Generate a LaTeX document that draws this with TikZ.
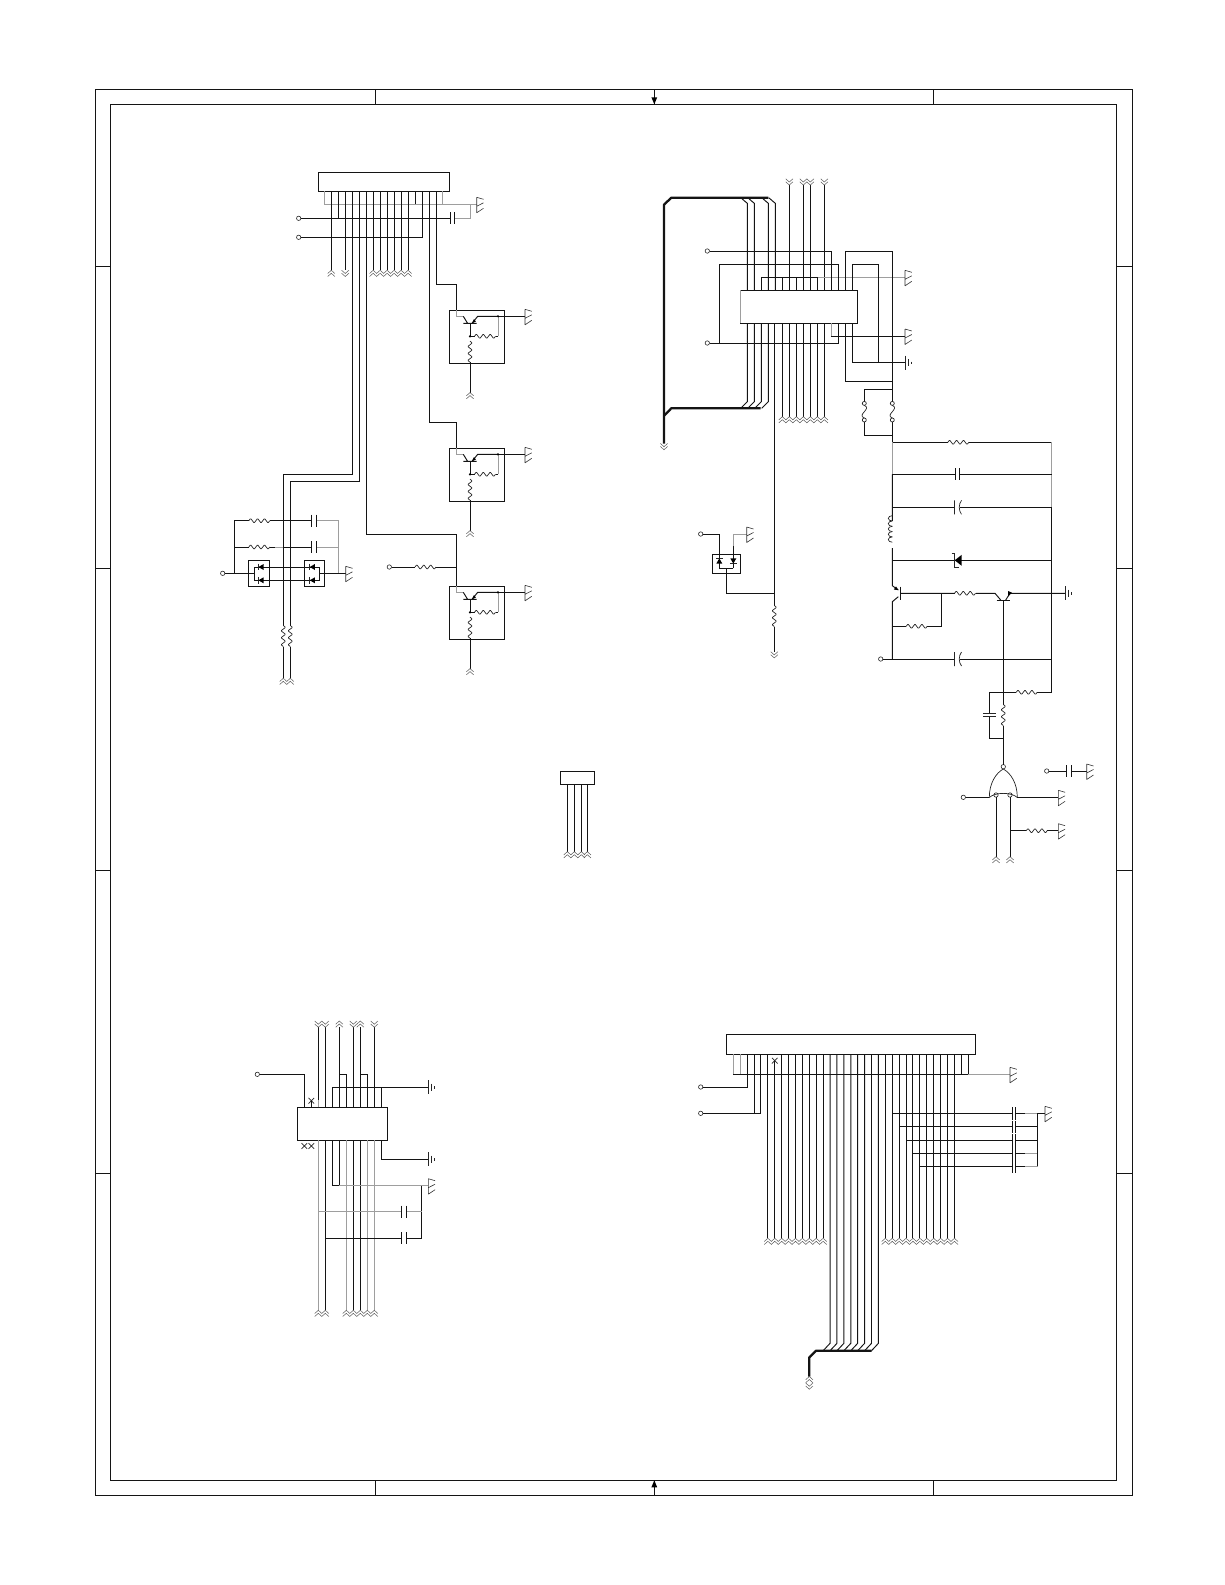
\documentclass[tikz,border=0pt]{standalone}

\tikzset{
	wire/.style={line width=0.95pt, draw=black!92},
	gwire/.style={line width=0.95pt, draw=black!38},
	bus/.style={line width=2.3pt, draw=black!92, line join=bevel},
	part/.style={line width=0.7pt, draw=black!85},
	chev/.style={line width=0.5pt, draw=black!65},
	ibox/.style={rectangle, draw=black!92, line width=0.95pt, fill=white, inner sep=0pt, outer sep=0pt, anchor=north west},
	term/.style={circle, draw=black!85, line width=0.6pt, fill=white, inner sep=0pt, outer sep=0pt, minimum size=4.4pt},
	jdot/.style={circle, fill=black, inner sep=0pt, minimum size=2.4pt},
	offup/.pic={
		\draw[chev] (-3.6,3.2) -- (0,0) -- (3.6,3.2) (-3.6,6.2) -- (0,3) -- (3.6,6.2);
	},
	offdown/.pic={
		\draw[chev] (-3.6,0) -- (0,3.2) -- (3.6,0) (-3.6,3) -- (0,6.2) -- (3.6,3);
	},
	chassis/.pic={
		\draw[line width=0.6pt, draw=black!80] (0,-7) -- (0,8.5) (0,-7) -- (6.8,-5) (0,2) -- (6.8,-1.5) (0,8.5) -- (6.8,4);
	},
	earth/.pic={
		\draw[part] (0,-7) -- (0,7) (3.3,-3.7) -- (3.3,3.7) (6.3,-1.2) -- (6.3,1.2);
	},
	resistor/.pic={
		\fill[white] (-10.5,-3.2) rectangle (10.5,3.2);
		\draw[part, rounded corners=.6pt] (-10.5,0) -- (-8.7,-2.3) -- (-5.2,2.3) -- (-1.7,-2.3) -- (1.7,2.3) -- (5.2,-2.3) -- (8.7,2.3) -- (10.5,0);
	},
	capacitor/.pic={
		\fill[white] (-2.1,-2) rectangle (2.1,2);
		\draw[wire] (-2.1,-6) -- (-2.1,6) (2.1,-6) -- (2.1,6);
	},
	capnarrow/.pic={
		\fill[white] (-1.5,-2) rectangle (1.5,2);
		\draw[wire] (-1.5,-6.2) -- (-1.5,6.2) (1.5,-6.2) -- (1.5,6.2);
	},
	polcap/.pic={
		\fill[white] (-2.2,-2) rectangle (3.4,2);
		\draw[part] (-2.2,-7) -- (-2.2,7) (4.8,-7) .. controls (1.8,-3) and (1.8,3) .. (4.8,7);
	},
	sdiode/.pic={
		\draw[part] (-2.6,-3.4) -- (-2.6,3.4);
		\fill[black] (-2.6,0) -- (2.6,-3) -- (2.6,3) -- cycle;
	},
	zener/.pic={
		\fill[black] (-3,0) -- (4,-5.5) -- (4,5.5) -- cycle;
		\draw[part] (-6,-7.3) -- (-3,-7.3) -- (-3,7.3) -- (1.5,7.3);
	},
	fuse/.pic={
		\fill[white] (-4,-6.5) rectangle (4,6.5);
		\draw[part] (0,-6.3) .. controls (8,-3) and (-8,3) .. (0,6.3);
		\draw[part, fill=white] (0,-8.3) circle (2pt) (0,8.3) circle (2pt);
	},
	noconn/.pic={
		\draw[part] (-2.8,-2.8) -- (2.8,2.8) (-2.8,2.8) -- (2.8,-2.8);
	},
	qcell/.pic={
		\draw[gwire] (7.4,0) -- (7.4,6) -- (14,6);
		\draw[wire] (14,6) -- (18.3,13) (14,13) -- (27.4,13);
		\draw[wire] (48.7,6) -- (28.4,6) -- (22.7,13);
		\fill[black] (22.7,13) -- (26.6,11.2) -- (24.6,8.8) -- cycle;
		\draw[wire] (20.7,13) -- (20.7,26) -- (48.7,26);
		\draw[gwire] (48.7,26) -- (48.7,6);
		\pic at (35.7,26) {resistor};
		\pic[rotate=90] at (20.7,41.4) {resistor};
		\node[jdot] at (48.7,6) {};
		\node[jdot] at (20.7,26) {};
	}
}

\begin{document}
\begin{tikzpicture}[x=1pt, y=-1pt]
	\useasboundingbox (0,0) rectangle (1225,1585);

	%sheet frame
	\draw[wire] (95.5,89.3) rectangle (1132.3,1495.3);
	\draw[wire] (110.3,104.3) rectangle (1116.3,1480.3);
	\foreach \x in {375.3,933.3,654.3}{
		\draw[wire] (\x,89.3) -- (\x,104.3);
		\draw[wire] (\x,1480.3) -- (\x,1495.3);
	}
	\foreach \y in {266,568,870,1173.5}{
		\draw[wire] (95.5,\y) -- (110.3,\y);
		\draw[wire] (1116.3,\y) -- (1132.3,\y);
	}
	\fill[black] (651.4,97.3) -- (657.2,97.3) -- (654.3,104.3) -- cycle;
	\fill[black] (651.4,1487.3) -- (657.2,1487.3) -- (654.3,1480.3) -- cycle;

	%top left connector
	\node[ibox, minimum width=131pt, minimum height=19pt] (conna) at (318.3,172.3) {};
	\foreach \i in {0,...,17}{
		\coordinate (apin\i) at (324.3+6.98*\i,191.3);
	}
	\coordinate (agnd) at (476.7,204.3);
	\coordinate (acap) at (452.3,218.3);
	\coordinate (ajoin) at (470,204.3);
	\node[term] (aterm1) at (298.7,218.3) {};
	\node[term] (aterm2) at (298.7,237.3) {};
	\draw[gwire] (apin0) |- (agnd);
	\draw[wire] (apin13) -- (apin13 |- agnd);
	\draw[gwire] (apin17) -- (apin17 |- agnd);
	\draw[wire] (aterm1) -- (acap);
	\draw[gwire] (acap) -| (ajoin);
	\draw[wire] (apin2) -- (apin2 |- aterm1);
	\draw[wire] (apin14) |- (aterm2);
	\pic at (acap) {capacitor};
	\pic at (agnd) {chassis};
	\foreach \i in {1,7,8,...,12}{
		\coordinate (aout\i) at (apin\i |- 0,270.3);
		\draw[wire] (apin\i) -- (aout\i);
		\pic at (aout\i) {offup};
	}
	\coordinate (aout3) at (apin3 |- 0,270.3);
	\draw[wire] (apin3) -- (aout3);
	\pic at (aout3) {offdown};

	%three transistor cells
	\foreach \n/\y in {1/310.3,2/448.3,3/586.3}{
		\node[ibox, minimum width=55pt, minimum height=53pt] (qbox\n) at (449.3,\y) {};
		\coordinate (qgnd\n) at (525,\y+6);
		\coordinate (qout\n) at (470,\y+82.3);
		\draw[wire] (498,\y+6) -- (qgnd\n);
		\draw[wire] (470,\y+50) -- (qout\n);
		\pic at (qbox\n.north west) {qcell};
		\pic at (qgnd\n) {chassis};
		\pic at (qout\n) {offup};
	}
	\draw[wire] (apin16) |- (456.7,284.3) -- (456.7,310.3);
	\draw[wire] (apin15) |- (456.7,422.3) -- (456.7,448.3);
	\draw[wire] (apin6) |- (456.7,534.3) -- (456.7,586.3);
	\node[term] (aterm3) at (389.3,567) {};
	\coordinate (ajoin3) at (456.7,567);
	\draw[wire] (aterm3) -- (ajoin3);
	\pic at (425.5,567) {resistor};

	%two long legs
	\coordinate (aleg1) at (283.3,678.3);
	\coordinate (aleg2) at (290.3,678.3);
	\draw[wire] (apin4) |- (283.3,474.3) -- (aleg1);
	\draw[wire] (apin5) |- (290.3,481.3) -- (aleg2);
	\pic[rotate=90] at (283.3,636) {resistor};
	\pic[rotate=90] at (290.3,636) {resistor};
	\pic at (aleg1) {offup};
	\pic at (aleg2) {offup};

	%diode block
	\node[term] (dterm) at (222.7,573.3) {};
	\coordinate (dgnd) at (345.7,573.3);
	\node[ibox, minimum width=21pt, minimum height=25.7pt] (dbox1) at (248.3,560.3) {};
	\node[ibox, minimum width=20.4pt, minimum height=25.7pt] (dbox2) at (304.3,560.3) {};
	\draw[wire] (dterm) -- (254,573.3);
	\draw[wire] (319.3,573.3) -- (dgnd);
	\draw[wire] (254,567) -- (319.3,567) -- (319.3,580.3) -- (254,580.3) -- cycle;
	\draw[wire] (234.3,573.3) -- (234.3,520.7) -- (314,520.7);
	\draw[gwire] (314,520.7) -- (338.3,520.7) -- (338.3,573.3);
	\draw[gwire] (275,547) -- (338.3,547);
	\draw[wire] (234.3,547) -- (275,547);
	\draw[wire] (283,547) -- (314,547);
	\pic at (259.3,520.7) {resistor};
	\pic at (259.3,547) {resistor};
	\pic at (314,520.7) {capacitor};
	\pic at (314,547) {capacitor};
	\foreach \x in {261,312.3}{
		\pic at (\x,567) {sdiode};
		\pic at (\x,580.3) {sdiode};
	}
	\pic at (dgnd) {chassis};

	%centre connector
	\node[ibox, minimum width=34pt, minimum height=13pt] (connc) at (560.3,771.3) {};
	\foreach \i/\x in {0/567.3,1/574.3,2/581.3,3/587.3}{
		\coordinate (cout\i) at (\x,851.7);
		\draw[wire] (\x,784.3) -- (cout\i);
		\pic at (cout\i) {offup};
	}

	%top right chip
	\node[ibox, minimum width=117.3pt, minimum height=33pt] (chipb) at (740,290.3) {};
	\draw[gwire] (740,290.3) -- (740,323.3);
	\foreach \i in {0,...,15}{
		\coordinate (btop\i) at (747.3+7*\i,290.3);
		\coordinate (bbot\i) at (747.3+7*\i,323.3);
	}
	\foreach \i in {0,1,3,4}{
		\draw[wire] (btop\i) -- (btop\i |- 0,203.3) -- ++(-6.6,-5.6);
	}
	\foreach \i in {0,1,2,3}{
		\draw[wire] (bbot\i) -- (bbot\i |- 0,401.7) -- ++(-6.6,6.6);
	}
	\draw[bus] (768.3,197.7) -- (671.3,197.7) -- (664,204.7) -- (664,443.5);
	\draw[bus] (760.7,408.3) -- (671.3,408.3) -- (664,415.7);
	\coordinate (bout0) at (664,443.5);
	\pic at (bout0) {offdown};
	\foreach \i in {6,8,9,11}{
		\coordinate (bin\i) at (btop\i |- 0,185);
		\draw[wire] (btop\i) -- (bin\i);
		\pic at ([yshift=6.2pt]bin\i) {offdown};
	}
	\foreach \i in {5,...,11}{
		\coordinate (bout\i) at (bbot\i |- 0,416.7);
		\draw[wire] (bbot\i) -- (bout\i);
		\pic at (bout\i) {offup};
	}
	\coordinate (bgnd1) at (905,277.3);
	\coordinate (bgnd2) at (905,336);
	\coordinate (bgnd3) at (905,362.7);
	\node[term] (bterm1) at (707.3,251) {};
	\node[term] (bterm2) at (707.3,343) {};
	\draw[wire] (btop2) |- (btop10 |- bgnd1);
	\draw[gwire] (btop10 |- bgnd1) -- (bgnd1);
	\foreach \i in {5,7,10}{
		\draw[wire] (btop\i) -- (btop\i |- bgnd1);
	}
	\draw[wire] (btop12) |- (bterm1);
	\draw[wire] (btop13) |- (719.3,264.3) -- (719.3,343);
	\draw[wire] (bterm2) -| (bbot13);
	\draw[wire] (btop14) |- (892.3,251) -- (892.3,442.3);
	\draw[wire] (btop15) |- (878.3,264.3) -- (878.3,362.7);
	\draw[wire] (bbot15) |- (bgnd3);
	\draw[wire] (bbot14) |- (892.3,381.7);
	\draw[gwire] (bbot12) -- (bbot12 |- bgnd2);
	\draw[wire] (bbot12 |- bgnd2) -- (bgnd2);
	\pic at (bgnd1) {chassis};
	\pic at (bgnd2) {chassis};
	\pic at (bgnd3) {earth};
	\draw[wire] (774.3,323.3) -- (774.3,593.3);

	%fuses
	\draw[wire] (892.3,389.3) -| (864.3,435.7) -- (892.3,435.7);
	\pic at (864.3,411.7) {fuse};
	\pic at (892.3,411.7) {fuse};

	%small diode pair
	\node[term] (fterm) at (700.7,534) {};
	\coordinate (fgnd) at (746.7,534);
	\node[ibox, minimum width=28.4pt, minimum height=19pt] (fbox) at (712.3,554.3) {};
	\draw[wire] (fterm) -| (719.3,568.3) -- (733.3,568.3);
	\draw[wire] (733.3,568.3) -- (733.3,546);
	\draw[gwire] (733.3,546) |- (fgnd);
	\draw[wire] (726.3,568.3) |- (774.3,593.3);
	\draw[wire] (774.3,593.3) -- (774.3,651.7);
	\pic[rotate=-90] at (719.3,561) {sdiode};
	\pic[rotate=90] at (733.3,561) {sdiode};
	\pic at (fgnd) {chassis};
	\pic[rotate=90] at (774.3,616) {resistor};
	\coordinate (fout) at (774.3,651.7);
	\pic at (fout) {offdown};

	%right side rows
	\coordinate (lr) at (892.3,442.3);
	\coordinate (rr) at (1051.7,442.3);
	\draw[wire] (lr) -- (rr);
	\draw[gwire] (892.3,442.3) -- (892.3,474.3);
	\draw[gwire] (rr) -- (1051.7,507.3);
	\draw[wire] (1051.7,507.3) -- (1051.7,692.3) -- (989.3,692.3);
	\draw[wire] (892.3,474.3) -- (1051.7,474.3);
	\draw[wire] (892.3,474.3) -- (892.3,585.7) -- (898.3,590);
	\draw[wire] (892.3,507.3) -- (1051.7,507.3);
	\draw[wire] (892.3,560.3) -- (1051.7,560.3);
	\draw[wire] (898.3,596.7) -- (892.3,601.7) -- (892.3,659);
	\draw[wire] (900,586.7) -- (900,600);
	\fill[black] (898.3,590) -- (893.8,589.6) -- (896,586.4) -- cycle;
	\pic at (958.3,442.3) {resistor};
	\pic at (957.7,474.3) {capacitor};
	\pic at (956.7,507.3) {polcap};
	\fill[white] (889,521) rectangle (896,547.5);
	\foreach \y in {521,526.3,531.6,536.9,542.2}{
		\draw[part] (892.3,\y) arc[start angle=270, end angle=90, x radius=4pt, y radius=2.65pt];
	}
	\pic at (957.7,560.3) {zener};

	%second transistor pair
	\coordinate (qbase) at (1003.3,600);
	\coordinate (egnd) at (1065,593.3);
	\draw[wire] (900,593.3) -- (995,593.3) -- (1000.7,600);
	\draw[wire] (996.7,600) -- (1010,600);
	\draw[wire] (1005.7,600) -- (1010,593.3) -- (egnd);
	\fill[black] (1008,596.4) -- (1012,592.7) -- (1008,591) -- cycle;
	\pic at (965,593.3) {resistor};
	\pic at (egnd) {earth};
	\draw[wire] (941,593.3) |- (892.3,626.3);
	\pic at (916.7,626.3) {resistor};
	\node[term] (eterm1) at (880.7,659) {};
	\draw[wire] (eterm1) -- (1051.7,659);
	\pic at (956.7,659) {polcap};

	%gate
	\node[term] (norout) at (1003.3,766.7) {};
	\node[term] (nin1) at (996,795) {};
	\node[term] (nin2) at (1010,795) {};
	\draw[wire] (norout) -- (qbase);
	\draw[wire] (1051.7,692.3) -- (989.3,692.3) |- (1003.3,738.3);
	\pic at (1026.7,692.3) {resistor};
	\pic[rotate=90] at (1003.3,715) {resistor};
	\fill[white] (986,713) rectangle (993,717);
	\draw[part] (982.8,713.5) -- (995.8,713.5) (982.8,716.5) -- (995.8,716.5);
	\draw[part] (1003.3,769) .. controls (996,773) and (989.3,783) .. (989.3,797.5);
	\draw[part] (1003.3,769) .. controls (1010.6,773) and (1017.3,783) .. (1017.3,797.5);
	\draw[part] (989.3,797.5) .. controls (995,792) and (1011.6,792) .. (1017.3,797.5);
	\node[term] (eterm2) at (963.3,797.3) {};
	\coordinate (ngnd1) at (1058.3,797.3);
	\coordinate (ngnd2) at (1058.3,830.7);
	\coordinate (nout1) at (996,856.7);
	\coordinate (nout2) at (1010,856.7);
	\draw[wire] (eterm2) -- (989.3,797.3);
	\draw[wire] (1017.3,797.3) -- (ngnd1);
	\draw[wire] (nin1) -- (nout1);
	\draw[wire] (nin2) -- (nout2);
	\draw[wire] (1010,830.7) -- (ngnd2);
	\pic at (1036.7,830.7) {resistor};
	\pic at (ngnd1) {chassis};
	\pic at (ngnd2) {chassis};
	\pic at (nout1) {offup};
	\pic at (nout2) {offup};
	\node[term] (eterm3) at (1046.7,771) {};
	\coordinate (ngnd3) at (1086.7,771);
	\draw[wire] (eterm3) -- (ngnd3);
	\pic at (1069,771) {capacitor};
	\pic at (ngnd3) {chassis};

	%bottom left chip
	\node[ibox, minimum width=90.4pt, minimum height=32.7pt] (chipd) at (297.3,1107.3) {};
	\foreach \i in {0,...,11}{
		\coordinate (dtop\i) at (304.3+7*\i,1107.3);
		\coordinate (dbot\i) at (304.3+7*\i,1140);
	}
	\node[term] (dterm1) at (257.3,1074.3) {};
	\coordinate (dgnd1) at (428.3,1087.3);
	\coordinate (dgnd2) at (428.3,1159.3);
	\coordinate (dgnd3) at (428.3,1185.7);
	\draw[wire] (dterm1) -| (dtop0);
	\pic at (dtop1 |- 0,1100.7) {noconn};
	\draw[wire] (dtop1) -- (dtop1 |- 0,1100.7);
	\pic at (dbot0 |- 0,1146) {noconn};
	\pic at (dbot1 |- 0,1146) {noconn};
	\foreach \i in {2,3,5,7,8,10}{
		\coordinate (din\i) at (dtop\i |- 0,1027);
		\draw[wire] (dtop\i) -- (din\i);
	}
	\draw[gwire] (dtop2) -- (dtop2 |- 0,1100);
	\foreach \i in {5,8}{
		\pic at ([yshift=6pt]din\i) {offup};
	}
	\foreach \i in {2,3,7,10}{
		\pic at ([yshift=6pt]din\i) {offdown};
	}
	\draw[wire] (dtop6) |- (dtop5 |- 0,1074.3);
	\draw[wire] (dtop9) |- (dtop8 |- 0,1074.3);
	\draw[wire] (dtop4) |- (dgnd1);
	\draw[wire] (dtop11) -- (dtop11 |- dgnd1);
	\draw[wire] (dbot11) |- (dgnd2);
	\pic at (dgnd1) {earth};
	\pic at (dgnd2) {earth};
	\foreach \i in {3,7,8}{
		\coordinate (dout\i) at (dbot\i |- 0,1310.3);
		\draw[wire] (dbot\i) -- (dout\i);
		\pic at (dout\i) {offup};
	}
	\foreach \i in {2,6,9,10}{
		\coordinate (dout\i) at (dbot\i |- 0,1310.3);
		\draw[gwire] (dbot\i) -- (dout\i);
		\pic at (dout\i) {offup};
	}
	\draw[wire] (dbot4) -- (dbot4 |- dgnd3) -- (dbot5 |- dgnd3) -- (dbot5);
	\draw[gwire] (dbot5 |- dgnd3) -- (dgnd3);
	\draw[wire] (421.7,1185.7) -- (421.7,1238.3) -- (dbot3 |- 0,1238.3);
	\draw[gwire] (dbot2 |- 0,1211.7) -- (421.7,1211.7);
	\pic at (404,1211.7) {capacitor};
	\pic at (404,1238.3) {capacitor};
	\pic at (dgnd3) {chassis};

	%bottom right connector
	\node[ibox, minimum width=249pt, minimum height=20pt] (conne) at (726.3,1034.3) {};
	\foreach \i in {0,...,34}{
		\coordinate (epin\i) at (733.3+6.91*\i,1054.3);
	}
	\coordinate (egnd1) at (1010,1074.3);
	\node[term] (eterm4) at (700.7,1087) {};
	\node[term] (eterm5) at (700.7,1113.3) {};
	\draw[gwire] (epin0) -- (epin0 |- egnd1);
	\draw[gwire] (epin1) -- (epin1 |- egnd1);
	\draw[wire] (epin0 |- egnd1) -- (epin34 |- egnd1) -- (epin34);
	\draw[wire] (epin33) -- (epin33 |- egnd1);
	\draw[gwire] (epin34 |- egnd1) -- (egnd1);
	\pic at (egnd1) {chassis};
	\draw[wire] (epin2) |- (eterm4);
	\draw[wire] (epin4) |- (eterm5);
	\draw[wire] (epin3) -- (epin3 |- eterm5);
	\foreach \i in {5,7,8,...,13,22,23,...,32}{
		\coordinate (eout\i) at (epin\i |- 0,1238.3);
		\draw[wire] (epin\i) -- (eout\i);
		\pic at (eout\i) {offup};
	}
	\coordinate (eout6) at (epin6 |- 0,1238.3);
	\draw[wire] (epin6 |- 0,1060.7) -- (eout6);
	\pic at (eout6) {offup};
	\pic at (epin6 |- 0,1060.7) {noconn};
	\foreach \i in {14,15,...,21}{
		\draw[wire] (epin\i) -- (epin\i |- 0,1343.3) -- ++(-6.9,7.4);
	}
	\coordinate (eout0) at (809.3,1376.5);
	\draw[bus] (871.7,1350.7) -- (816,1350.7) -- (809.3,1357.3) -- (eout0);
	\pic at (eout0) {offup};
	\pic at (809.3,1383) {offdown};
	\foreach \i/\y in {23/1113.3,24/1126.7,25/1140.3,26/1153.3,27/1166.3}{
		\coordinate (ecap\i) at (1013.5,\y);
		\draw[wire] (epin\i |- ecap\i) -- (1037.7,\y);
		\pic at (ecap\i) {capnarrow};
	}
	\foreach \y in {1113.3,1153.3,1166.3}{
		\draw[gwire] (1025,\y) -- (1037.7,\y);
	}
	\coordinate (egnd2) at (1045,1113.3);
	\draw[wire] (1037.7,1166.3) -- (1037.7,1113.3) -- (egnd2);
	\pic at (egnd2) {chassis};
\end{tikzpicture}
\end{document}
